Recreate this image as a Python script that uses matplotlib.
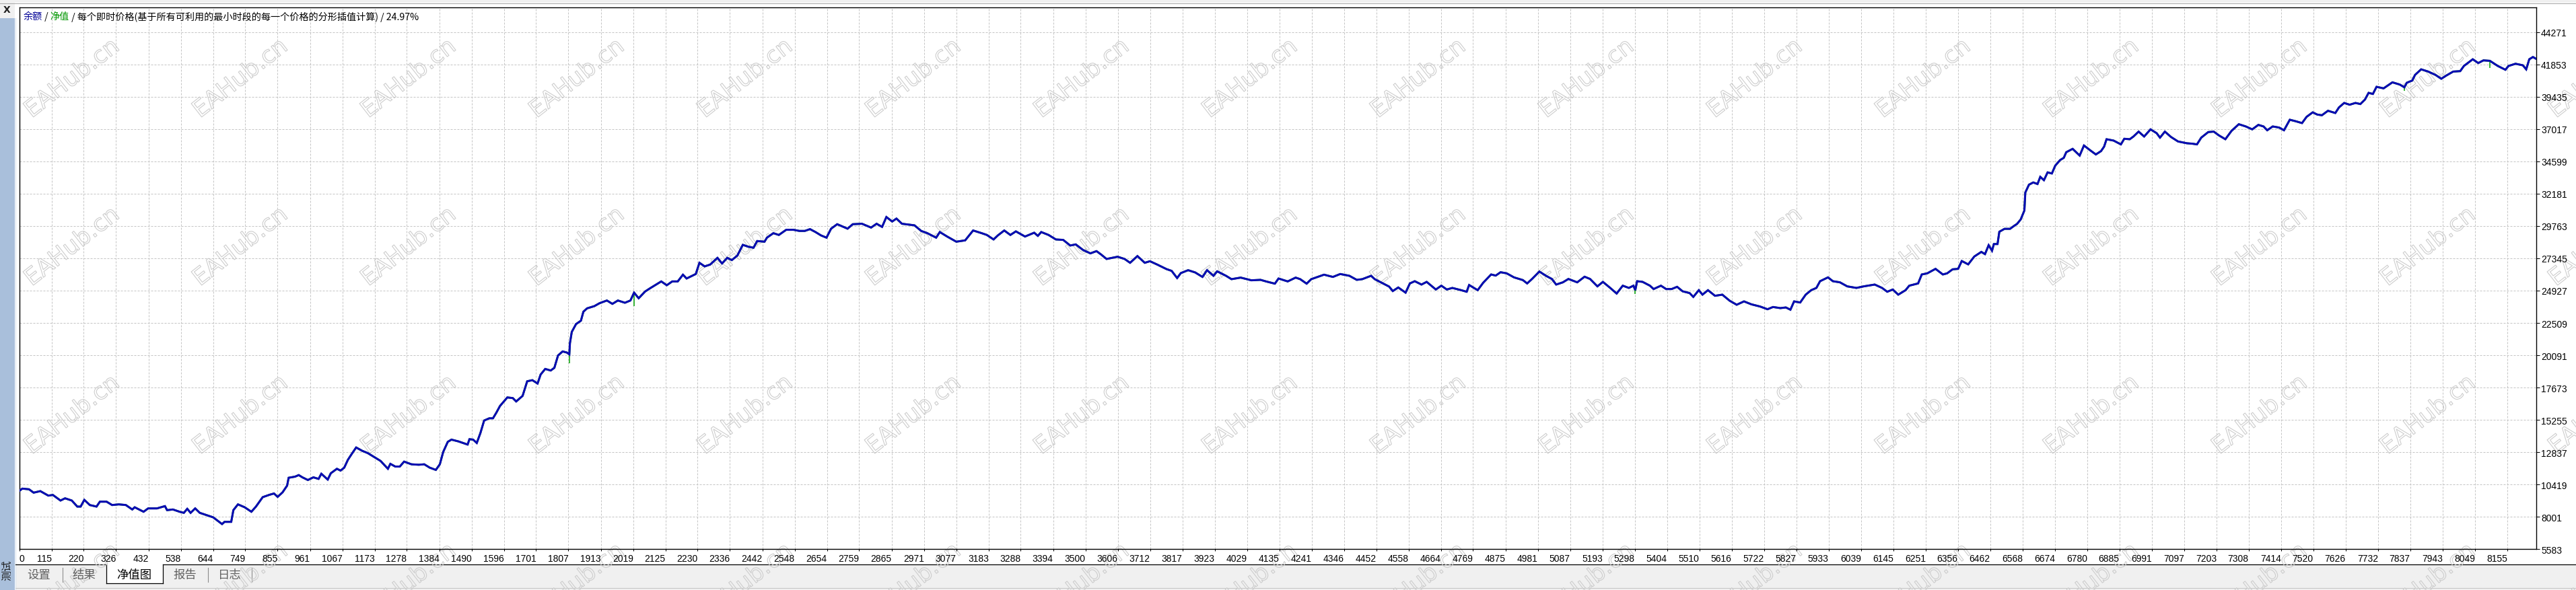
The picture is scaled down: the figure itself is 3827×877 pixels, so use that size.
import numpy as np
import matplotlib
matplotlib.use('Agg')
import matplotlib.pyplot as plt
from matplotlib.patches import Rectangle
from matplotlib.lines import Line2D
import matplotlib.patheffects as pe

# ---------------- data ----------------
trade_no = [
    9, 19, 41, 56, 78, 104, 119, 144, 159, 181, 199, 210, 222, 240, 262, 273, 295, 313, 335, 358,
    379, 387, 416, 431, 460, 486, 493, 512, 534, 548, 559, 570, 585, 600, 622, 644, 673, 681, 703, 710,
    725, 747, 769, 784, 806, 828, 843, 855, 871, 886, 891, 912, 924, 936, 954, 972, 989, 998, 1019, 1029,
    1049, 1061, 1073, 1085, 1097, 1112, 1132, 1150, 1174, 1192, 1216, 1224, 1240, 1255, 1269, 1293, 1317, 1335, 1353, 1373,
    1386, 1397, 1412, 1424, 1447, 1477, 1483, 1495, 1507, 1519, 1531, 1548, 1560, 1571, 1583, 1607, 1625, 1636, 1657, 1672,
    1689, 1706, 1716, 1731, 1749, 1761, 1773, 1788, 1802, 1810, 1812, 1818, 1832, 1848, 1856, 1868, 1892, 1909, 1933, 1951,
    1969, 1992, 2010, 2022, 2037, 2058, 2075, 2111, 2129, 2147, 2165, 2182, 2194, 2224, 2236, 2253, 2271, 2295, 2310, 2327,
    2342, 2360, 2378, 2395, 2413, 2425, 2449, 2457, 2478, 2496, 2520, 2544, 2563, 2581, 2598, 2616, 2634, 2652, 2667, 2687,
    2721, 2738, 2768, 2798, 2816, 2834, 2848, 2867, 2881, 2899, 2940, 2962, 2982, 3011, 3023, 3047, 3077, 3106, 3132, 3160,
    3177, 3199, 3213, 3234, 3254, 3272, 3302, 3332, 3344, 3355, 3379, 3403, 3427, 3450, 3468, 3492, 3516, 3536, 3551, 3569,
    3605, 3628, 3646, 3670, 3694, 3711, 3735, 3765, 3782, 3800, 3812, 3836, 3859, 3883, 3898, 3919, 3931, 3960, 3978, 4008,
    4043, 4073, 4091, 4120, 4132, 4162, 4188, 4203, 4224, 4239, 4281, 4310, 4334, 4364, 4388, 4406, 4435, 4447, 4471, 4494,
    4506, 4524, 4548, 4562, 4578, 4600, 4617, 4647, 4665, 4683, 4701, 4730, 4748, 4756, 4784, 4802, 4828, 4843, 4859, 4879,
    4903, 4932, 4946, 4962, 4986, 5009, 5027, 5041, 5063, 5081, 5110, 5134, 5152, 5176, 5194, 5218, 5239, 5259, 5279, 5294,
    5300, 5306, 5324, 5348, 5360, 5384, 5401, 5419, 5437, 5455, 5478, 5490, 5508, 5520, 5538, 5561, 5585, 5609, 5632, 5656,
    5680, 5709, 5733, 5751, 5775, 5793, 5808, 5820, 5840, 5858, 5876, 5893, 5905, 5931, 5947, 5970, 5994, 6024, 6048, 6084,
    6108, 6125, 6143, 6161, 6185, 6197, 6226, 6238, 6256, 6283, 6307, 6321, 6339, 6357, 6369, 6390, 6410, 6433, 6445, 6457,
    6468, 6474, 6486, 6492, 6509, 6527, 6539, 6550, 6562, 6574, 6577, 6589, 6603, 6617, 6626, 6638, 6650, 6664, 6675, 6691,
    6703, 6711, 6732, 6755, 6769, 6790, 6808, 6825, 6835, 6843, 6866, 6890, 6901, 6919, 6931, 6948, 6966, 6987, 7007, 7018,
    7034, 7054, 7077, 7106, 7124, 7139, 7153, 7176, 7194, 7211, 7232, 7252, 7276, 7299, 7320, 7340, 7357, 7369, 7387, 7408,
    7424, 7443, 7463, 7483, 7498, 7518, 7533, 7548, 7568, 7592, 7604, 7621, 7639, 7658, 7674, 7689, 7701, 7715, 7727, 7750,
    7779, 7803, 7818, 7826, 7844, 7853, 7873, 7896, 7920, 7939, 7955, 7978, 8001, 8013, 8042, 8060, 8077, 8098, 8124, 8149,
    8159, 8182, 8206, 8217, 8227, 8239, 8248,
]
balance = [
    9941, 10113, 10063, 9811, 9926, 9590, 9640, 9222, 9388, 9222, 8769, 8769, 9272, 8885, 8769, 9136, 9136, 8885, 8935, 8885,
    8553, 8718, 8382, 8633, 8633, 8804, 8502, 8553, 8382, 8301, 8603, 8301, 8633, 8301, 8130, 7964, 7460, 7626, 7626, 8502,
    8935, 8718, 8382, 8769, 9474, 9650, 9749, 9497, 9833, 10337, 10925, 11009, 11126, 10958, 10757, 10958, 10840, 11227, 10790, 11261,
    11597, 11462, 11681, 12268, 12688, 13192, 12940, 12772, 12436, 12184, 11597, 11966, 11765, 11765, 12134, 11933, 11899, 11933, 11681, 11513,
    11933, 12856, 13612, 13780, 13645, 13410, 13813, 13780, 13528, 14283, 15207, 15375, 15375, 15794, 16298, 16936, 16886, 16634, 17053, 18144,
    18228, 17976, 18648, 19068, 18950, 19152, 20075, 20377, 20293, 20159, 20998, 21837, 22425, 22677, 23349, 23600, 23768, 23987, 24188, 23936,
    24188, 24020, 24188, 24776, 24356, 24860, 25112, 25616, 25330, 25616, 25616, 26120, 25834, 26170, 27009, 26741, 26875, 27379, 26959, 27379,
    27211, 27547, 28353, 28218, 28135, 28638, 28588, 28890, 29226, 29092, 29478, 29478, 29394, 29394, 29528, 29310, 29058, 28890, 29561, 29897,
    29562, 29897, 29931, 29645, 29931, 29696, 30435, 30099, 30317, 29931, 29813, 29394, 29226, 28890, 29310, 28974, 28588, 28688, 29427, 29226,
    29092, 28756, 29058, 29427, 29092, 29360, 28974, 29260, 29024, 29310, 29092, 28756, 28722, 28302, 28386, 27967, 27715, 27883, 27631, 27295,
    27463, 27295, 27009, 27513, 27009, 27127, 26875, 26540, 26405, 25868, 26238, 26456, 26288, 25952, 26456, 26036, 26372, 26036, 25784, 25902,
    25700, 25734, 25616, 25448, 25834, 25616, 25902, 25784, 25448, 25784, 26120, 25952, 26170, 26036, 25734, 25784, 26036, 25784, 25499, 25230,
    24894, 25163, 24776, 25465, 25632, 25381, 25582, 25011, 25297, 25011, 25129, 24961, 24843, 25347, 24961, 25515, 26136, 26052, 26304, 26220,
    25918, 25716, 25465, 25800, 26354, 26019, 25800, 25381, 25548, 25800, 25548, 25968, 25800, 25246, 25582, 25129, 24709, 25297, 25129, 25297,
    24961, 25632, 25582, 25297, 25045, 25297, 25045, 25045, 25213, 24877, 24743, 24457, 24961, 24625, 24961, 24541, 24625, 24172, 23870, 24122,
    23903, 23735, 23534, 23702, 23618, 23668, 23500, 24122, 24038, 24625, 24961, 25129, 25632, 25918, 25632, 25548, 25246, 25129, 25246, 25381,
    25129, 24843, 25011, 24625, 24961, 25297, 25465, 26136, 26220, 26556, 26136, 26220, 26522, 26556, 27144, 26892, 27479, 27825, 27657, 28328,
    27909, 28412, 28412, 29333, 29551, 29551, 29752, 29920, 30255, 30926, 32266, 32853, 33021, 32903, 33440, 33189, 33775, 33692, 34278, 34697,
    34864, 35283, 35535, 35032, 35786, 35417, 35115, 35367, 35702, 36255, 36154, 35869, 36289, 36255, 36456, 36825, 36456, 36993, 36708, 36373,
    36825, 36423, 36088, 35954, 35920, 35869, 36373, 36791, 36825, 36540, 36255, 36875, 37378, 37210, 36993, 37328, 37210, 36925, 37210, 37127,
    36925, 37713, 37596, 37462, 37931, 38266, 38099, 38048, 38384, 38216, 38635, 38970, 38836, 38970, 38886, 39222, 39725, 39641, 40177, 40060,
    40512, 40345, 40143, 40479, 40646, 41066, 41484, 41317, 41066, 40780, 41015, 41317, 41350, 41736, 42238, 41954, 42155, 42121, 41736, 41451,
    41736, 41903, 41786, 41484, 42238, 42406, 42289,
]
# equity dips (green) visible below the balance line
equity_dip_trade = [1810, 2022, 5300, 7818, 8098, 8217]
equity_dip_value = [19487, 23770, 24675, 39892, 41568, 41400]

x_tick_labels = [0, 115, 220, 326, 432, 538, 644, 749, 855, 961, 1067, 1173, 1278, 1384, 1490, 1596,
                 1701, 1807, 1913, 2019, 2125, 2230, 2336, 2442, 2548, 2654, 2759, 2865, 2971, 3077,
                 3183, 3288, 3394, 3500, 3606, 3712, 3817, 3923, 4029, 4135, 4241, 4346, 4452, 4558,
                 4664, 4769, 4875, 4981, 5087, 5193, 5298, 5404, 5510, 5616, 5722, 5827, 5933, 6039,
                 6145, 6251, 6356, 6462, 6568, 6674, 6780, 6885, 6991, 7097, 7203, 7308, 7414, 7520,
                 7626, 7732, 7837, 7943, 8049, 8155]
y_tick_labels = [5583, 8001, 10419, 12837, 15255, 17673, 20091, 22509, 24927, 27345, 29763,
                 32181, 34599, 37017, 39435, 41853, 44271]

title_parts = [("余额", "#000096"), (" / ", "#000000"), ("净值", "#009600"),
               (" / 每个即时价格(基于所有可利用的最小时段的每一个价格的分形插值计算) / 24.97%", "#000000")]
tab_names = ["设置", "结果", "净值图", "报告", "日志"]

# ---------------- figure ----------------
W, H, DPI = 3827, 878, 100
fig = plt.figure(figsize=(W / DPI, H / DPI), dpi=DPI, facecolor='white')
CJK = ['Noto Sans CJK SC', 'DejaVu Sans']


def fx(px):
    return px / W


def fy(py):
    return 1 - py / H


def rect(x0, y0, x1, y1, color, z=-5):
    fig.add_artist(Rectangle((fx(x0), fy(y1)), (x1 - x0) / W, (y1 - y0) / H,
                             transform=fig.transFigure, facecolor=color, edgecolor='none', zorder=z))


def hline(x0, x1, y, color, lw=0.75, z=-3):
    fig.add_artist(Line2D([fx(x0), fx(x1)], [fy(y), fy(y)], transform=fig.transFigure,
                          color=color, lw=lw, zorder=z))


def vline(x, y0, y1, color, lw=0.75, z=-3):
    fig.add_artist(Line2D([fx(x), fx(x)], [fy(y0), fy(y1)], transform=fig.transFigure,
                          color=color, lw=lw, zorder=z))


# window chrome
rect(0, 0, W, 5, '#f0f0f0')
hline(0, W, 5.5, '#a8a8a8')
rect(0, 0, 22, 28, '#f0f0f0', z=-4)
rect(0, 28, 22, H, '#a9bfdb', z=-4)
vline(22.5, 28, H, '#d8e2ee', lw=0.8, z=-3)
rect(23, 840, W, H, '#f0f0f0')
hline(23, W, 874.5, '#c4c4c4')
hline(23, 158, 840.3, '#000000', lw=0.9)
hline(242, W, 840.3, '#000000', lw=0.9)
rect(158, 840, 242, 868, 'white', z=-4)
vline(158, 840, 868, '#000000', lw=0.9)
vline(242, 840, 868, '#000000', lw=0.9)
hline(158, 242, 868, '#000000', lw=0.9)
for sx in [92.6, 308.5, 374]:
    vline(sx, 845, 866, '#8c8c8c', lw=0.8)

fig.text(fx(10), fy(15), "X", fontsize=10, fontweight='bold', ha='center', va='center',
         family='DejaVu Sans', color='#202020')
fig.text(fx(11), fy(848), "测试", fontsize=11, rotation=90, ha='center', va='center',
         family=CJK, color='#1a1a1a')

tab_centers = [58, 124.5, 199, 275, 341.7]
for name, cx in zip(tab_names, tab_centers):
    active = name == "净值图"
    fig.text(fx(cx), fy(855), name, fontsize=12.5, ha='center', va='center', family=CJK,
             color='#000000' if active else '#606060', zorder=2)

# watermarks
for i in range(0, 16):
    for j in range(0, 4):
        fig.text(fx(47 + 250 * i), fy(177 + 250 * j), "EAHub.cn", fontsize=25, rotation=38,
                 rotation_mode='anchor', ha='left', va='baseline', family='DejaVu Sans',
                 color='none', zorder=-1,
                 path_effects=[pe.Stroke(linewidth=0.8, foreground='#cdcdcd')])

# ---------------- axes ----------------
ax_l, ax_r, ax_t, ax_b = 28.7, 3768, 11.7, 817.3
ax = fig.add_axes([fx(ax_l), fy(ax_b), (ax_r - ax_l) / W, (ax_b - ax_t) / H])
ax.set_facecolor('none')

x_left, x_right = 9.2, 8250
y_low, y_high = 5583, 46133
ax.set_xlim(x_left, x_right)
ax.set_ylim(y_low, y_high)

tb = np.array(trade_no, dtype=float)
bal = np.array(balance, dtype=float)
ax.plot(tb, bal, color='#009600', lw=2.0, zorder=3)
base_at_dips = np.interp(equity_dip_trade, tb, bal)
ax.vlines(equity_dip_trade, equity_dip_value, base_at_dips, color='#00a000', lw=1.1, zorder=3)
ax.plot(tb, bal, color='#0a0ab4', lw=2.2, zorder=4, solid_joinstyle='miter')

x_pos = [x_left] + x_tick_labels[1:]
ax.set_xticks(x_pos)
ax.set_xticklabels([str(v) for v in x_tick_labels], ha='right')
ax.xaxis.get_major_ticks()[0].label1.set_horizontalalignment('left')
ax.yaxis.tick_right()
ax.set_yticks(y_tick_labels)
ax.set_yticklabels([str(v) for v in y_tick_labels])

for lbl in ax.get_xticklabels() + ax.get_yticklabels():
    lbl.set_family('Liberation Sans')
    lbl.set_fontsize(10)
    lbl.set_color('#000000')

ax.tick_params(axis='x', direction='out', length=2.4, width=0.75, pad=2.6, colors='#000000')
ax.tick_params(axis='y', direction='out', length=3.6, width=0.75, pad=1.5, colors='#000000')

ax.grid(True, color='#c4c4c4', lw=0.72, ls=(0, (3, 2)))
ax.set_axisbelow(True)
for s in ax.spines.values():
    s.set_color('#000000')
    s.set_linewidth(1.0)

# title line with coloured parts
renderer = fig.canvas.get_renderer()
cur_x = 34.7
for txt, col in title_parts:
    t = fig.text(fx(cur_x), fy(25), txt, fontsize=10.2, family=CJK, color=col,
                 ha='left', va='center', zorder=5)
    bb = t.get_window_extent(renderer)
    cur_x = bb.x1

fig.savefig('out.png', dpi=DPI, facecolor='white')
